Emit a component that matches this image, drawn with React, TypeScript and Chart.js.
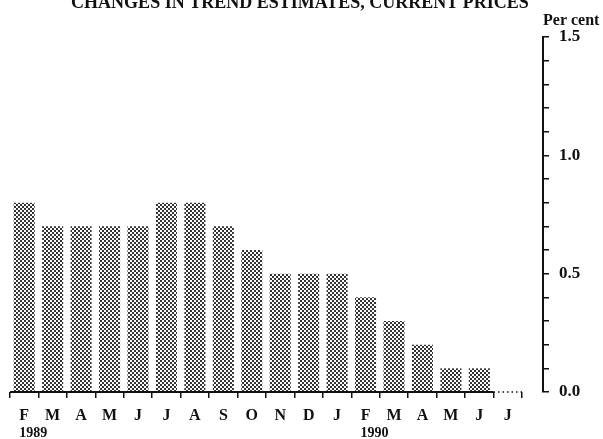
import React, { useEffect, useRef } from 'react';
import { Chart, registerables } from 'chart.js';

Chart.register(...registerables);

// ---- data ----
const monthLabels = ['F', 'M', 'A', 'M', 'J', 'J', 'A', 'S', 'O', 'N', 'D', 'J', 'F', 'M', 'A', 'M', 'J', 'J'];
const changeValues: (number | null)[] = [0.8, 0.7, 0.7, 0.7, 0.7, 0.8, 0.8, 0.7, 0.6, 0.5, 0.5, 0.5, 0.4, 0.3, 0.2, 0.1, 0.1, null];
const yearLabels = ['1989', '1990'];
const yearStartIndex = [0, 12];
const yMajorTicks = [0, 0.5, 1.0, 1.5];
const titleText = 'CHANGES IN TREND ESTIMATES, CURRENT PRICES';
const unitText = 'Per cent';

const W = 603;
const H = 439;
const SERIF = "'Liberation Serif', 'Times New Roman', serif";
const INK = '#111';

function makePattern(): CanvasPattern | string {
  const c = document.createElement('canvas');
  c.width = 4;
  c.height = 4;
  const g = c.getContext('2d');
  if (!g) return '#888';
  g.fillStyle = '#ffffff';
  g.fillRect(0, 0, 4, 4);
  g.fillStyle = '#333333';
  g.fillRect(0, 0, 2, 2);
  g.fillRect(2, 2, 2, 2);
  const p = g.createPattern(c, 'repeat');
  return p || '#888';
}

const decorPlugin = {
  id: 'decor',
  afterLayout(chart: any) {
    const y = chart.scales.y;
    const shift = 21;
    y.left += shift;
    y.right += shift;
  },
  afterDraw(chart: any) {
    const ctx = chart.ctx as CanvasRenderingContext2D;
    const x = chart.scales.x;
    const y = chart.scales.y;
    const baseY = y.getPixelForValue(0);
    const step = x.getPixelForValue(1) - x.getPixelForValue(0);
    const firstMissing = changeValues.findIndex((v) => v === null);
    const solidEnd = firstMissing >= 0 ? x.getPixelForValue(firstMissing) - step / 2 : x.right;
    ctx.save();
    ctx.strokeStyle = INK;
    ctx.lineWidth = 2;
    ctx.beginPath();
    ctx.moveTo(x.left, baseY);
    ctx.lineTo(solidEnd, baseY);
    ctx.stroke();
    if (firstMissing >= 0) {
      ctx.lineWidth = 1.5;
      ctx.setLineDash([1.5, 3]);
      ctx.beginPath();
      ctx.moveTo(solidEnd, baseY);
      ctx.lineTo(x.right, baseY);
      ctx.stroke();
      ctx.setLineDash([]);
    }

    ctx.fillStyle = INK;
    // title (top partly cut off, as in the source)
    ctx.font = `bold 18px ${SERIF}`;
    ctx.textAlign = 'center';
    ctx.textBaseline = 'alphabetic';
    ctx.fillText(titleText, 300, 8);

    // unit label above right axis
    ctx.font = `bold 16px ${SERIF}`;
    ctx.textAlign = 'left';
    ctx.fillText(unitText, y.left, 25);

    // year labels
    ctx.font = `bold 14px ${SERIF}`;
    ctx.textAlign = 'left';
    yearLabels.forEach((t, i) => {
      const px = x.getPixelForValue(yearStartIndex[i]) - 5;
      ctx.fillText(t, px, 437);
    });
    ctx.restore();
  },
};

export default function App() {
  const ref = useRef<HTMLCanvasElement | null>(null);
  useEffect(() => {
    if (!ref.current) return;
    const pattern = makePattern();
    const chart = new Chart(ref.current, {
      type: 'bar',
      data: {
        labels: monthLabels,
        datasets: [
          {
            data: changeValues,
            backgroundColor: pattern as any,
            borderWidth: 0,
            barPercentage: 0.74,
            categoryPercentage: 1,
          },
        ],
      },
      options: {
        animation: false,
        responsive: true,
        maintainAspectRatio: false,
        layout: { padding: { left: 10, top: 37, right: 31, bottom: 13 } },
        plugins: {
          legend: { display: false },
          tooltip: { enabled: false },
          title: { display: false },
        },
        scales: {
          x: {
            type: 'category',
            offset: true,
            afterFit: (s: any) => {
              s.height = 34;
            },
            grid: {
              offset: true,
              drawOnChartArea: false,
              drawTicks: true,
              tickLength: 6,
              color: INK,
              lineWidth: 1.5,
            },
            border: { display: false },
            ticks: {
              color: INK,
              padding: 8,
              autoSkip: false,
              maxRotation: 0,
              font: { family: SERIF, size: 16, weight: 'bold' },
            },
          },
          y: {
            position: 'right',
            min: 0,
            max: 1.5,
            afterFit: (s: any) => {
              s.width = 50;
            },
            grid: {
              drawOnChartArea: false,
              drawTicks: true,
              tickLength: 6,
              color: INK,
              lineWidth: 1.5,
            },
            border: { display: true, color: INK, width: 2 },
            ticks: {
              stepSize: 0.1,
              autoSkip: false,
              color: INK,
              padding: 10,
              font: { family: SERIF, size: 17, weight: 'bold' },
              callback: (v: any) => {
                const n = Number(v);
                const hit = yMajorTicks.find((m) => Math.abs(m - n) < 1e-6);
                return hit !== undefined ? hit.toFixed(1) : '';
              },
            },
          },
        },
      },
      plugins: [decorPlugin],
    });
    return () => chart.destroy();
  }, []);
  return (
    <div style={{ position: 'absolute', left: 0, top: 0, width: W, height: H, background: '#fff' }}>
      <canvas ref={ref} />
    </div>
  );
}
